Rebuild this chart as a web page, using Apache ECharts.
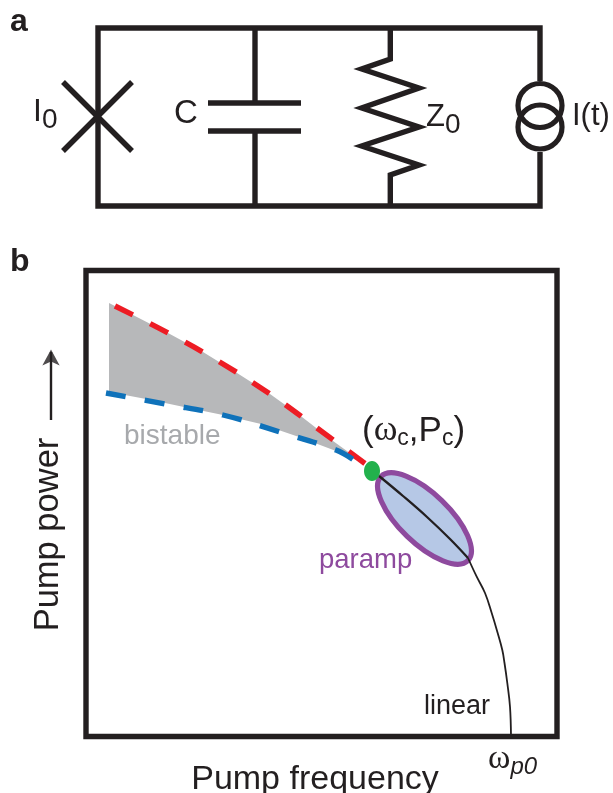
<!DOCTYPE html>
<html><head><meta charset="utf-8">
<style>html,body{margin:0;padding:0;background:#fff}#c{width:613px;height:793px}</style>
<script src="https://cdn.jsdelivr.net/npm/echarts@6/dist/echarts.min.js"></script>
</head><body><div id="c"></div>
<script>
// Panel a: circuit schematic, in schematic units
const wireLoop = [[540,81],[540,28],[98,28],[98,206],[540,206],[540,152]];
const capLeadTop = [[255,28],[255,103]];
const capLeadBottom = [[255,131],[255,206]];
const capPlateTop = [[208,103],[301,103]];
const capPlateBottom = [[208,131],[301,131]];
const junctionA = [[63,82],[132,151]];
const junctionB = [[132,82],[63,151]];
const resistor = [[390.3,28],[390.3,59],[361.7,69],[419,88],[361.7,108],[419,127],[361.7,146],[419,165],[390.3,175],[390.3,206]];
const sourceCircles = [[540,105.5],[540,127]];
const arrowShaft = [[51,420],[51,352]];
const arrowHead = [[51,349.5]];

// Panel b: pump frequency (x) vs pump power (y), arbitrary units
const redBoundary = [[29,430.5],[82,403.5],[132,375.5],[184,342.5],[231,308.5],[281,271.5]];
const blueBoundary = [[20,343.5],[79,332.5],[137,321.5],[194,304.5],[250,286.5],[268,276.5]];
const bistableUpper = [[23,433.5],[47,421.5],[82,403.5],[117,384.5],[151,363.5],[184,342.5],[216,319.5],[247,295.5],[279,272.5]];
const bistableLower = [[250,285.5],[213,299.5],[175,312.5],[137,321.5],[98,329.5],[60,337.5],[23,344.5]];
const linearUpper = [[293,260.5],[317,240.5],[341,219.5],[364,197.5],[382,178.5]];
const linearLower = [[382,178.5],[390.7,159.8],[399,143.5],[405.7,123.5],[411.3,104.8],[416.3,86.5],[418.5,73.5],[421.3,53.5],[424,29.8],[425,0.5]];
// centre x, centre y, semi-axis a, semi-axis b, tilt in degrees
const parampRegion = [[338.5,218,60.5,25,-44]];
const criticalPoint = [[286,265.5,8,10,0]];

const ink = '#231f20', purple = '#8e4a9e', grey = '#a7a9ac';

function wire(data, width){
  return {type:'line', xAxisIndex:1, yAxisIndex:1, data, symbol:'none', clip:false, silent:true,
    lineStyle:{color:ink, width:width||5.4, cap:'butt', join:'miter'}, z:3};
}
function curve(data, color, width, dash, z){
  return {type:'line', xAxisIndex:0, yAxisIndex:0, data, symbol:'none', clip:false, silent:true, smooth:0.4,
    lineStyle:{color, width, type:dash||'solid', cap:'butt'}, z};
}
function ellipse(data, fill, stroke, lw, z){
  return {type:'custom', xAxisIndex:0, yAxisIndex:0, data, clip:false, silent:true, z,
    encode:{x:0,y:1},
    renderItem(params, api){
      const c = api.coord([api.value(0), api.value(1)]);
      const s = api.size([api.value(2), api.value(3)]);
      return {type:'ellipse', x:c[0], y:c[1], rotation:api.value(4)*Math.PI/180,
        shape:{cx:0,cy:0,rx:s[0],ry:s[1]}, style:{fill, stroke:stroke||'none', lineWidth:lw||0}};
    }};
}
function txt(text, x, y, size, fill, extra){
  return {type:'text', x, y, z:20, silent:true,
    style:Object.assign({text, fontFamily:'"Liberation Sans"', fontSize:size, fill, align:'left', verticalAlign:'middle'}, extra||{})};
}
const subRich = (main, sub, drop) => ({
  m:{fontFamily:'"Liberation Sans"', fontSize:main, fill:ink, lineHeight:main},
  s:{fontFamily:'"Liberation Sans"', fontSize:sub, fill:ink, lineHeight:main, padding:[drop*2,0,0,0]}
});

const chart = echarts.init(document.getElementById('c'), null, {renderer:'canvas'});
chart.setOption({
  animation:false,
  backgroundColor:'#fff',
  grid:[
    {left:86, top:270.5, width:471, height:466, show:true, borderColor:ink, borderWidth:5.4, backgroundColor:'transparent', z:4, outerBoundsMode:'none'},
    {left:0, top:0, width:613, height:793, outerBoundsMode:'none'}
  ],
  xAxis:[
    {type:'value', gridIndex:0, min:0, max:471, name:'Pump frequency', nameLocation:'middle', nameGap:26,
     nameTextStyle:{fontFamily:'"Liberation Sans"', fontSize:34, color:ink, padding:[0,13,0,0]},
     axisLine:{show:false}, axisTick:{show:false}, axisLabel:{show:false}, splitLine:{show:false}},
    {type:'value', gridIndex:1, min:0, max:613, show:false, splitLine:{show:false}}
  ],
  yAxis:[
    {type:'value', gridIndex:0, min:0, max:466, name:'Pump power', nameLocation:'middle', nameGap:20,
     nameTextStyle:{fontFamily:'"Liberation Sans"', fontSize:34.5, color:ink, padding:[0,62,0,0]},
     axisLine:{show:false}, axisTick:{show:false}, axisLabel:{show:false}, splitLine:{show:false}},
    {type:'value', gridIndex:1, min:0, max:793, inverse:true, show:false, splitLine:{show:false}}
  ],
  series:[
    wire(wireLoop), wire(capLeadTop), wire(capLeadBottom), wire(capPlateTop), wire(capPlateBottom),
    wire(junctionA), wire(junctionB), wire(resistor),
    {type:'scatter', xAxisIndex:1, yAxisIndex:1, data:sourceCircles, symbol:'circle', symbolSize:44, silent:true, clip:false,
     itemStyle:{color:'rgba(0,0,0,0)', borderColor:ink, borderWidth:5.2, opacity:1}, z:3},
    wire(arrowShaft, 2.4),
    {type:'scatter', xAxisIndex:1, yAxisIndex:1, data:arrowHead, symbol:'arrow', symbolSize:[13,16], silent:true, clip:false,
     itemStyle:{color:ink}, z:3},
    {type:'custom', xAxisIndex:0, yAxisIndex:0, data:[0], clip:false, silent:true, z:2,
     renderItem(params, api){
       const points = bistableUpper.concat(bistableLower).map(p => api.coord(p));
       return {type:'polygon', shape:{points}, style:{fill:'#b7b8ba'}};
     }},
    curve(redBoundary, '#ed1c24', 5.4, [20,19.4], 5),
    curve(blueBoundary, '#0f72ba', 5.4, [20,19.4], 5),
    ellipse(parampRegion, '#b6c8e6', purple, 5.2, 6),
    curve(linearUpper, ink, 2.3, null, 7),
    curve(linearLower, ink, 1.8, null, 7),
    ellipse(criticalPoint, '#22b14c', null, 0, 8)
  ],
  graphic:[
    txt('a', 10, 22, 32, ink, {fontWeight:'bold'}),
    txt('b', 10, 262, 32, ink, {fontWeight:'bold'}),
    txt('{m|I}{s|0}', 33, 112, 0, ink, {rich:subRich(32,28,8)}),
    txt('C', 174, 114, 33, ink),
    txt('{m|Z}{s|0}', 426, 117, 0, ink, {rich:subRich(31,28,8)}),
    txt('I(t)', 572, 116, 31, ink),
    txt('bistable', 124, 436, 28, grey),
    txt('paramp', 319, 560, 27.5, purple),
    txt('linear', 424, 707, 27, ink),
    txt('{p|(}{w|ω}{c|c}{p|,P}{c|c}{p|)}', 362, 431, 0, ink, {rich:{
      p:{fontFamily:'"Liberation Sans"', fontSize:35, fill:ink, lineHeight:38},
      w:{fontFamily:'"Liberation Serif"', fontSize:36, fill:ink, lineHeight:38},
      c:{fontFamily:'"Liberation Sans"', fontSize:23, fill:ink, lineHeight:38, padding:[16,0,0,0]}
    }}),
    txt('{w|ω}{c|p0}', 488, 759, 0, ink, {rich:{
      w:{fontFamily:'"Liberation Serif"', fontSize:34, fill:ink, lineHeight:32},
      c:{fontFamily:'"Liberation Sans"', fontStyle:'italic', fontSize:24, fill:ink, lineHeight:32, padding:[16,0,0,0]}
    }})
  ]
});
</script></body></html>
